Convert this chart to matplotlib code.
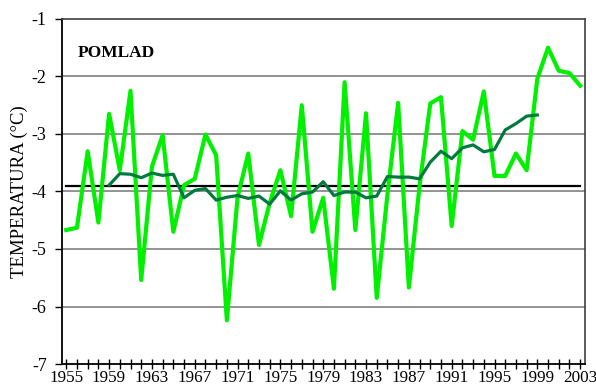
import matplotlib
matplotlib.use('Agg')
from matplotlib import pyplot as plt

years = list(range(1955, 2004))
spring_temp = [-4.67, -4.63, -3.30, -4.54, -2.65, -3.63, -2.25, -5.54, -3.57, -3.02,
               -4.70, -3.89, -3.78, -3.01, -3.37, -6.24, -4.10, -3.34, -4.93, -4.20,
               -3.63, -4.43, -2.50, -4.70, -4.11, -5.69, -2.10, -4.67, -2.64, -5.85,
               -4.05, -2.46, -5.67, -3.90, -2.47, -2.36, -4.60, -2.95, -3.10, -2.26,
               -3.73, -3.73, -3.34, -3.63, -2.04, -1.50, -1.90, -1.94, -2.16]
smooth_years = list(range(1959, 2000))
smooth_temp = [-3.89, -3.69, -3.70, -3.76, -3.68, -3.72, -3.70, -4.11, -3.98, -3.95,
               -4.15, -4.10, -4.07, -4.12, -4.08, -4.22, -3.99, -4.15, -4.04, -4.01,
               -3.83, -4.07, -4.01, -4.01, -4.11, -4.08, -3.74, -3.75, -3.75, -3.78,
               -3.49, -3.30, -3.43, -3.24, -3.19, -3.31, -3.27, -2.93, -2.82, -2.69,
               -2.67]
mean_temp = -3.9
label_years = list(range(1955, 2004, 4))
y_ticks = [-7, -6, -5, -4, -3, -2, -1]

plt.rcParams['font.family'] = ['Liberation Serif', 'DejaVu Serif']

fig = plt.figure(figsize=(5.96, 3.87), dpi=100)
ax = fig.add_axes([0.104, 0.0594, 0.8775, 0.8916])

for v in y_ticks[1:-1]:
    ax.axhline(v, color='#808080', lw=1.2, zorder=1)

ax.plot([years[0], years[-1]], [mean_temp, mean_temp], color='black', lw=1.6, zorder=2)
ax.plot(years, spring_temp, color='#00f000', lw=3.0, zorder=3)
ax.plot(smooth_years, smooth_temp, color='#007a3d', lw=2.3, zorder=4)

ax.set_xlim(1954.6, 2003.45)
ax.set_ylim(-7, -1)
ax.set_yticks(y_ticks)
ax.set_yticklabels([str(v) for v in y_ticks], fontsize=13)
ax.set_xticks(years)
ax.set_xticklabels([str(y) if y in label_years else '' for y in years], fontsize=12.3)
ax.tick_params(axis='x', direction='inout', length=7, width=1, pad=1)
ax.tick_params(axis='y', direction='out', length=5, width=1, pad=6)

for side in ['left', 'bottom']:
    ax.spines[side].set_color('black')
    ax.spines[side].set_linewidth(1.3)
for side in ['top', 'right']:
    ax.spines[side].set_color('#404040')
    ax.spines[side].set_linewidth(1.2)

ax.set_ylabel('TEMPERATURA (°C)', fontsize=13.5, labelpad=3)
ax.text(0.031, 0.9, 'POMLAD', transform=ax.transAxes, fontsize=12.5,
        fontweight='bold', va='center', ha='left')

fig.savefig('out.png', dpi=100)
